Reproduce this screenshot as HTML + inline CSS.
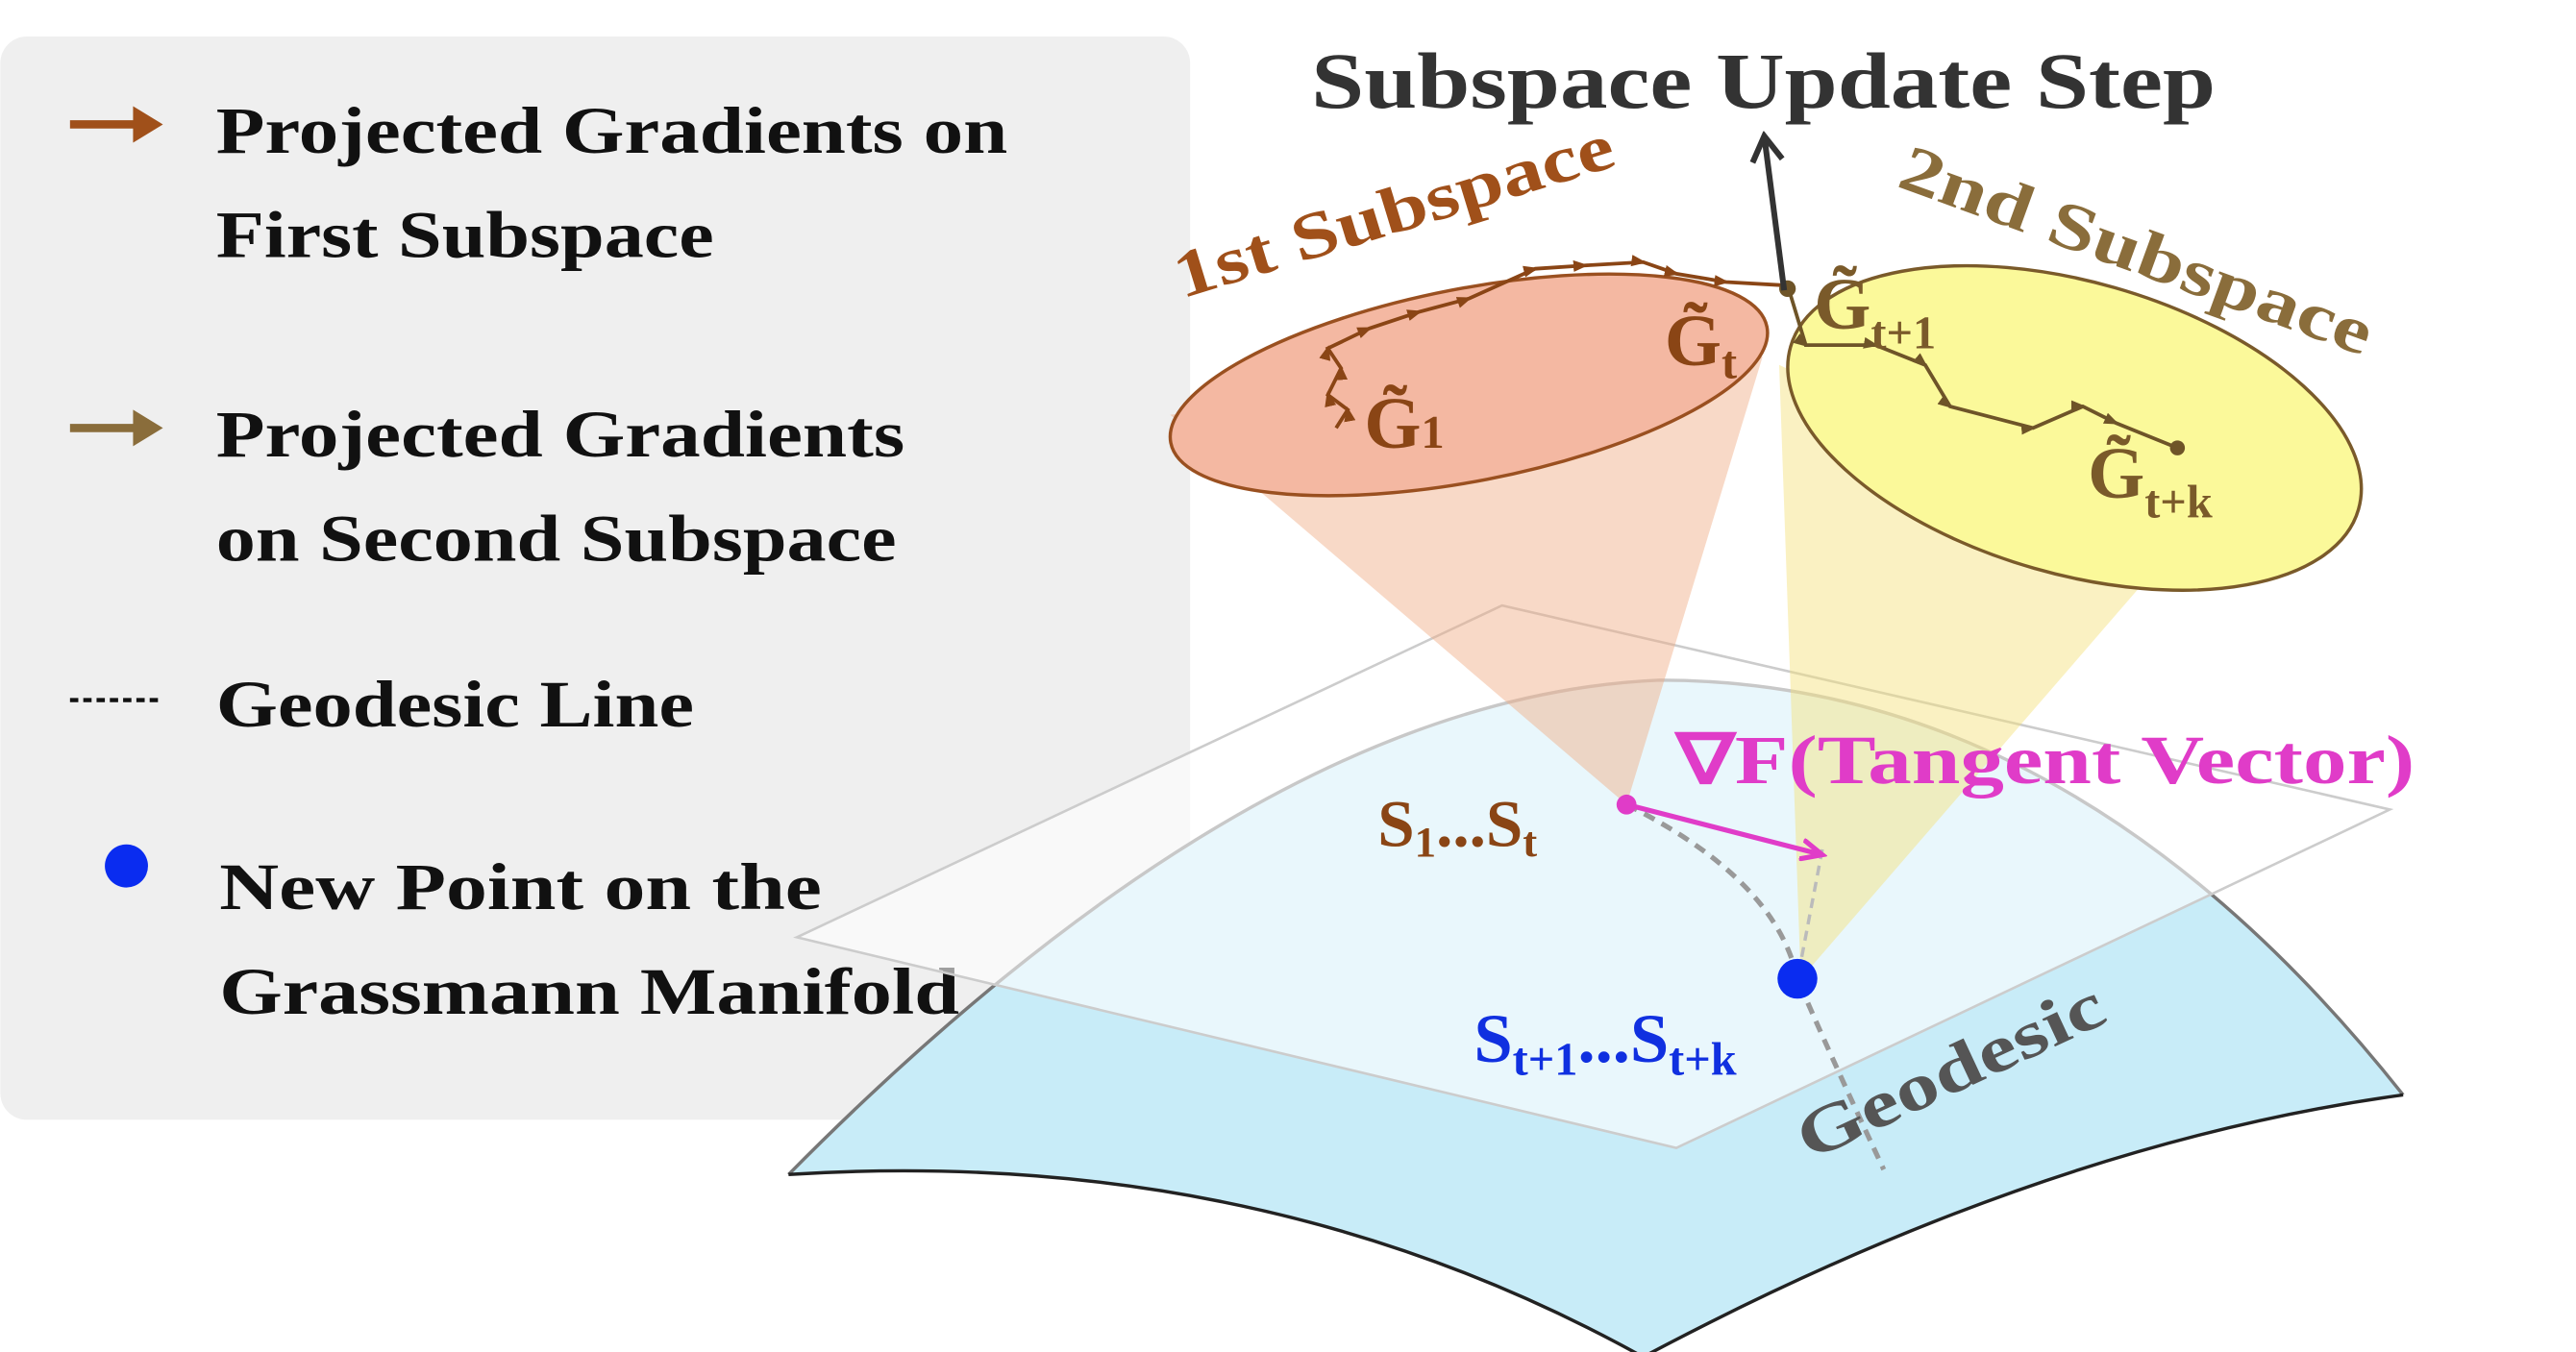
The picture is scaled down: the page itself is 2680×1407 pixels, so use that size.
<!DOCTYPE html>
<html><head><meta charset="utf-8"><style>
html,body{margin:0;padding:0;background:#fff;}
svg{display:block;}
text{font-family:"Liberation Serif",serif;font-weight:bold;}
</style></head><body>
<svg width="2680" height="1407" viewBox="0 0 1552 815" xmlns="http://www.w3.org/2000/svg">
<defs>
<marker id="ab" markerWidth="10" markerHeight="10" refX="7" refY="5" orient="auto" markerUnits="userSpaceOnUse"><path d="M0,1.5 L9,5 L0,8.5 Z" fill="#8a4515"/></marker>
<marker id="ay" markerWidth="10" markerHeight="10" refX="7" refY="5" orient="auto" markerUnits="userSpaceOnUse"><path d="M0,1.5 L9,5 L0,8.5 Z" fill="#6e5428"/></marker>
<marker id="am" markerWidth="16" markerHeight="14" refX="12" refY="7" orient="auto" markerUnits="userSpaceOnUse"><path d="M0,1 L13,7 L0,13" fill="none" stroke="#e03cc8" stroke-width="3"/></marker>
<marker id="ak" markerWidth="20" markerHeight="22" refX="17" refY="11" orient="auto" markerUnits="userSpaceOnUse"><path d="M2,2 L17,11 L2,20" fill="none" stroke="#333" stroke-width="3.5"/></marker>
</defs>
<rect x="0" y="22" width="717" height="653" rx="16" fill="#efefef"/>
<line x1="42" y1="75" x2="84" y2="75" stroke="#a0501a" stroke-width="5"/><path d="M80,64 L98,75 L80,86 Z" fill="#a0501a"/>
<text x="130" y="92" font-size="40" fill="#111" textLength="477" lengthAdjust="spacingAndGlyphs">Projected Gradients on</text>
<text x="130" y="155" font-size="40" fill="#111" textLength="300" lengthAdjust="spacingAndGlyphs">First Subspace</text>
<line x1="42" y1="258" x2="84" y2="258" stroke="#8a6d3b" stroke-width="5"/><path d="M80,247 L98,258 L80,269 Z" fill="#8a6d3b"/>
<text x="130" y="275" font-size="40" fill="#111" textLength="415" lengthAdjust="spacingAndGlyphs">Projected Gradients</text>
<text x="130" y="338" font-size="40" fill="#111" textLength="410" lengthAdjust="spacingAndGlyphs">on Second Subspace</text>
<line x1="42" y1="422" x2="98" y2="422" stroke="#111" stroke-width="2.5" stroke-dasharray="5,3"/>
<text x="130" y="438" font-size="40" fill="#111" textLength="288" lengthAdjust="spacingAndGlyphs">Geodesic Line</text>
<circle cx="76" cy="522" r="13" fill="#0a2cf0"/>
<text x="132" y="548" font-size="40" fill="#111" textLength="363" lengthAdjust="spacingAndGlyphs">New Point on the</text>
<text x="132" y="611" font-size="40" fill="#111" textLength="446" lengthAdjust="spacingAndGlyphs">Grassmann Manifold</text>
<path d="M475,708 Q760,420 1000,410 Q1250,410 1448,660 Q1230,690 990,818 Q760,690 475,708 Z" fill="#c8ecf8"/>
<path d="M475,708 Q760,420 1000,410 Q1250,410 1448,660" fill="none" stroke="#777" stroke-width="2"/>
<path d="M475,708 Q760,690 990,818 Q1230,690 1448,660" fill="none" stroke="#222" stroke-width="2"/>
<path d="M480,565 L905,365 L1440,488 L1010,692 Z" fill="rgba(255,255,255,0.6)" stroke="#ccc" stroke-width="1.5"/>
<path d="M705,250 L980,485 L1062,215 Z" fill="rgba(240,170,130,0.45)"/>
<path d="M1072,220 L1085,590 L1310,330 Z" fill="rgba(245,225,120,0.45)"/>
<ellipse cx="885" cy="232" rx="183" ry="58" transform="rotate(-11 885 232)" fill="#f4b8a2" stroke="#9a5020" stroke-width="2"/>
<ellipse cx="1250" cy="258" rx="178" ry="88" transform="rotate(16 1250 258)" fill="#fbf99a" stroke="#7a5a2a" stroke-width="2"/>
<path d="M805,258 L812,247 L800,238 L808,222 L800,210 L825,198 L855,188 L885,180 L925,162 L955,160 L990,158 L1010,165 L1040,170 L1075,172" fill="none" stroke="#8a4515" stroke-width="2.2" marker-mid="url(#ab)"/>
<path d="M1078,175 L1088,208 L1130,208 L1160,220 L1175,245 L1225,258 L1255,245 L1275,255 L1312,270" fill="none" stroke="#6e5428" stroke-width="2.2" marker-mid="url(#ay)"/>
<circle cx="1312" cy="270" r="4.5" fill="#6e5428"/><circle cx="1077" cy="174" r="5" fill="#6e5428"/>
<line x1="1075" y1="175" x2="1063" y2="82" stroke="#333" stroke-width="3.5" marker-end="url(#ak)"/>
<text x="790" y="65" font-size="48" fill="#333" textLength="545" lengthAdjust="spacingAndGlyphs">Subspace Update Step</text>
<text x="712" y="180" font-size="40" fill="#a0501a" transform="rotate(-17 712 180)" textLength="275" lengthAdjust="spacingAndGlyphs">1st Subspace</text>
<text x="1142" y="112" font-size="40" fill="#8a6d3b" transform="rotate(20 1142 112)" textLength="300" lengthAdjust="spacingAndGlyphs">2nd Subspace</text>
<text x="822" y="270" font-size="44" fill="#8a4515">G̃<tspan font-size="28">1</tspan></text>
<text x="1003" y="220" font-size="44" fill="#8a4515">G̃<tspan font-size="28" dy="8">t</tspan></text>
<text x="1093" y="198" font-size="44" fill="#7a5a2a">G̃<tspan font-size="28" dy="12">t+1</tspan></text>
<text x="1258" y="300" font-size="44" fill="#7a5a2a">G̃<tspan font-size="28" dy="12">t+k</tspan></text>
<path d="M980,485 Q1070,530 1083,590 Q1100,630 1135,705" fill="none" stroke="#999" stroke-width="3" stroke-dasharray="7,5"/>
<line x1="1098" y1="512" x2="1085" y2="580" stroke="#bbb" stroke-width="2" stroke-dasharray="6,4"/>
<line x1="980" y1="485" x2="1097" y2="515" stroke="#e03cc8" stroke-width="3" marker-end="url(#am)"/>
<circle cx="980" cy="485" r="6" fill="#e03cc8"/>
<text x="1010" y="472" font-size="42" fill="#e03cc8" textLength="445" lengthAdjust="spacingAndGlyphs">∇F(Tangent Vector)</text>
<text x="830" y="510" font-size="40" fill="#8a4515">S<tspan font-size="26" dy="6">1</tspan><tspan dy="-6">...S</tspan><tspan font-size="26" dy="6">t</tspan></text>
<circle cx="1083" cy="590" r="12" fill="#0a2cf0"/>
<text x="888" y="640" font-size="42" fill="#1030e0">S<tspan font-size="28" dy="8">t+1</tspan><tspan dy="-8">...S</tspan><tspan font-size="28" dy="8">t+k</tspan></text>
<text x="1090" y="700" font-size="40" fill="#555" transform="rotate(-25 1090 700)" textLength="200" lengthAdjust="spacingAndGlyphs">Geodesic</text>
</svg>
</body></html>
